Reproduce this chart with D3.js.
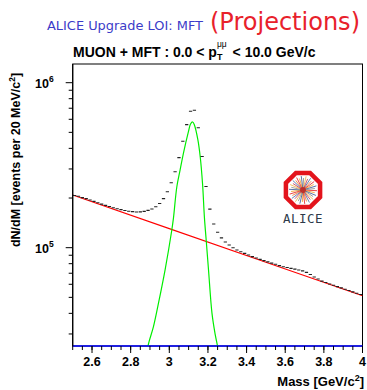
<!DOCTYPE html>
<html><head><meta charset="utf-8">
<script src="https://cdn.jsdelivr.net/npm/d3@7"></script>
<style>body{margin:0;background:#fff}svg{display:block}</style>
</head><body><div id="chart"></div>
<script>
// ---- data ----
const binCenters = [2.51,2.53,2.55,2.57,2.59,2.61,2.63,2.65,2.67,2.69,2.71,2.73,2.75,2.77,2.79,2.81,2.83,2.85,2.87,2.89,
 2.91,2.93,2.95,2.97,2.99,3.01,3.03,3.05,3.07,3.09,3.11,3.13,3.15,3.17,3.19,3.21,3.23,3.25,3.27,3.29,
 3.31,3.33,3.35,3.37,3.39,3.41,3.43,3.45,3.47,3.49,3.51,3.53,3.55,3.57,3.59,3.61,3.63,3.65,3.67,3.69,
 3.71,3.73,3.75,3.77,3.79,3.81,3.83,3.85,3.87,3.89,3.91,3.93,3.95,3.97,3.99];
const binCounts = [207200,204900,201200,198200,194600,190800,187400,183700,180500,177500,174500,172100,170000,168100,166400,165300,164600,164800,166000,168300,
 171600,177000,185300,198200,218500,247700,288800,351200,441400,556600,670900,680300,533700,357100,234900,171200,139200,124000,114700,108300,
 103800,100000,96800,94400,92400,90300,88300,86600,85000,83500,82000,80600,79300,77900,76700,75800,74900,74100,73200,72400,
 70900,68800,66400,64600,62700,61500,60300,59200,58100,57100,56000,55000,54000,52900,52000];
const bgMass = [2.5, 3.0, 3.5, 4.0];
const bgValue = [208400, 130500, 81700, 51200];
const sigMass = [2.880, 2.890, 2.918, 2.944, 2.978, 3.013, 3.0215, 3.039, 3.056, 3.073, 3.099, 3.110, 3.121, 3.130, 3.148, 3.160, 3.172, 3.182, 3.191, 3.203, 3.221, 3.238, 3.250, 3.256];
const sigValue = [20000, 25400, 33200, 46100, 73200, 128000, 151000, 234000, 296000, 373000, 505000, 562000, 578000, 554000, 450000, 356000, 245000, 151000, 111000, 73300, 40000, 29600, 25100, 22000];
const xMajorTicks = [2.6, 2.8, 3.0, 3.2, 3.4, 3.6, 3.8, 4.0];
const xTickLabels = ["2.6", "2.8", "3", "3.2", "3.4", "3.6", "3.8", "4"];
const yMajorTicks = [1e5, 1e6];
const yTickExponents = ["5", "6"];
const xDomain = [2.5, 4.0];
const yDomain = [25360, 1298000];
const binWidth = 0.02;

// ---- layout ----
const W = 367, H = 390;
const L = 72.7, R = 362.5, T = 64, B = 346;
const svg = d3.select("#chart").append("svg").attr("width", W).attr("height", H);
const x = d3.scaleLinear().domain(xDomain).range([L, R]);
const y = d3.scaleLog().domain(yDomain).range([B, T]);

svg.append("defs").append("clipPath").attr("id", "clip")
  .append("rect").attr("x", L).attr("y", T).attr("width", R - L).attr("height", B - T);

// frame
svg.append("rect").attr("x", L).attr("y", T).attr("width", R - L).attr("height", B - T)
  .attr("fill", "none").attr("stroke", "#000").attr("stroke-width", 1);

const plot = svg.append("g").attr("clip-path", "url(#clip)");

// background (red)
const bgLine = d3.line().x((d, i) => x(bgMass[i])).y((d, i) => y(bgValue[i]));
plot.append("path").attr("d", bgLine(bgMass)).attr("fill", "none").attr("stroke", "#ff0000").attr("stroke-width", 1.1);

// signal (green)
const sigLine = d3.line().curve(d3.curveCatmullRom.alpha(0.5))
  .x((d, i) => x(sigMass[i])).y((d, i) => y(sigValue[i]));
plot.append("path").attr("d", sigLine(sigMass)).attr("fill", "none").attr("stroke", "#00ee00").attr("stroke-width", 1.2);

// histogram bins
plot.selectAll("line.bin").data(binCenters).join("line").attr("class", "bin")
  .attr("x1", d => x(d - binWidth / 2) + 0.3).attr("x2", d => x(d + binWidth / 2) - 0.3)
  .attr("y1", (d, i) => y(binCounts[i])).attr("y2", (d, i) => y(binCounts[i]))
  .attr("stroke", "#222").attr("stroke-width", 1.1);

// bottom axis (blue line) + ticks
svg.append("line").attr("x1", L).attr("x2", R).attr("y1", B).attr("y2", B)
  .attr("stroke", "#0000ff").attr("stroke-width", 1.6);
const xMinor = d3.range(2.5, 4.0001, 0.05);
svg.selectAll("line.xmin").data(xMinor).join("line").attr("class", "xmin")
  .attr("x1", d => x(d)).attr("x2", d => x(d)).attr("y1", B).attr("y2", B + 4)
  .attr("stroke", "#000").attr("stroke-width", 1);
svg.selectAll("line.xmaj").data(xMajorTicks).join("line").attr("class", "xmaj")
  .attr("x1", d => x(d)).attr("x2", d => x(d)).attr("y1", B).attr("y2", B + 7)
  .attr("stroke", "#000").attr("stroke-width", 1);
svg.selectAll("text.xlab").data(xMajorTicks).join("text").attr("class", "xlab")
  .attr("x", d => x(d)).attr("y", 366).attr("text-anchor", "middle")
  .attr("font-family", "Liberation Sans, Arial, sans-serif").attr("font-weight", "bold").attr("font-size", 12.5)
  .text((d, i) => xTickLabels[i]);

// left axis ticks
svg.append("line").attr("x1", L).attr("x2", L).attr("y1", T).attr("y2", B).attr("stroke", "#000").attr("stroke-width", 1.2);
const yMinor = [];
[1e4, 1e5].forEach(dec => { for (let k = 2; k <= 9; k++) { const v = k * dec; if (v >= yDomain[0] && v <= yDomain[1]) yMinor.push(v); } });
svg.selectAll("line.ymin").data(yMinor).join("line").attr("class", "ymin")
  .attr("x1", L - 4).attr("x2", L).attr("y1", d => y(d)).attr("y2", d => y(d))
  .attr("stroke", "#000").attr("stroke-width", 1);
svg.selectAll("line.ymaj").data(yMajorTicks).join("line").attr("class", "ymaj")
  .attr("x1", L - 7).attr("x2", L).attr("y1", d => y(d)).attr("y2", d => y(d))
  .attr("stroke", "#000").attr("stroke-width", 1);
const ylab = svg.selectAll("text.ylab").data(yMajorTicks).join("text").attr("class", "ylab")
  .attr("x", 35).attr("y", d => y(d) + 5)
  .attr("font-family", "Liberation Sans, Arial, sans-serif").attr("font-weight", "bold").attr("font-size", 12.5);
ylab.append("tspan").text("10");
ylab.append("tspan").attr("dy", -6).attr("font-size", 8.5).text((d, i) => yTickExponents[i]);

// axis titles
const ytitle = svg.append("text").attr("transform", "translate(20,160) rotate(-90)").attr("text-anchor", "middle")
  .attr("font-family", "Liberation Sans, Arial, sans-serif").attr("font-weight", "bold").attr("font-size", 12.5);
ytitle.append("tspan").text("dN/dM  [events per 20 MeV/c");
ytitle.append("tspan").attr("dy", -5).attr("font-size", 8.5).text("2");
ytitle.append("tspan").attr("dy", 5).text("]");

const xtitle = svg.append("text").attr("x", 364).attr("y", 386).attr("text-anchor", "end")
  .attr("font-family", "Liberation Sans, Arial, sans-serif").attr("font-weight", "bold").attr("font-size", 13);
xtitle.append("tspan").text("Mass  [GeV/c");
xtitle.append("tspan").attr("dy", -5).attr("font-size", 9).text("2");
xtitle.append("tspan").attr("dy", 5).text("]");

// title
const title = svg.append("text").attr("x", 73).attr("y", 57)
  .attr("font-family", "Liberation Sans, Arial, sans-serif").attr("font-weight", "bold").attr("font-size", 14);
title.append("tspan").text("MUON + MFT : 0.0 < p");
title.append("tspan").attr("dy", 3).attr("font-size", 9).text("T");
title.append("tspan").attr("dx", -5.5).attr("dy", -13).attr("font-size", 8.5).attr("font-weight", "normal").text("μμ");
title.append("tspan").attr("dx", 2).attr("dy", 10).text(" < 10.0 GeV/c");

// header
svg.append("text").attr("x", 47).attr("y", 30).attr("fill", "#3b3bc8")
  .attr("font-family", "DejaVu Sans, sans-serif").attr("font-size", 12.5)
  .attr("textLength", 156).attr("lengthAdjust", "spacingAndGlyphs").text("ALICE Upgrade LOI: MFT");
svg.append("text").attr("x", 210).attr("y", 30).attr("fill", "#e8212b")
  .attr("font-family", "DejaVu Sans, sans-serif").attr("font-size", 25)
  .attr("textLength", 150).attr("lengthAdjust", "spacingAndGlyphs").text("(Projections)");

// ALICE logo
const logo = svg.append("g").attr("transform", "translate(303,190)");
const oct = d3.range(8).map(k => { const a = Math.PI / 8 + k * Math.PI / 4; return [18.5 * Math.cos(a), 18.5 * Math.sin(a)]; });
logo.append("polygon").attr("points", oct.map(p => p.join(",")).join(" "))
  .attr("fill", "#fff").attr("stroke", "#e3141c").attr("stroke-width", 4.5);
const rayColors = ["#e3141c", "#f39a1e", "#2f4f8f", "#888", "#f0b040", "#c03050", "#4060a0", "#f07020"];
const rays = d3.range(36);
logo.selectAll("line.ray").data(rays).join("line").attr("class", "ray")
  .attr("x1", 0).attr("y1", 0)
  .attr("x2", d => (d % 2 ? 12 : 14) * Math.cos(d * Math.PI / 18 + 0.05))
  .attr("y2", d => (d % 2 ? 12 : 14) * Math.sin(d * Math.PI / 18 + 0.05))
  .attr("stroke", d => rayColors[d % rayColors.length]).attr("stroke-width", 0.8);
logo.append("circle").attr("r", 3).attr("fill", "#c02020").attr("opacity", 0.8);
svg.append("text").attr("x", 303).attr("y", 223).attr("text-anchor", "middle").attr("fill", "#2d3a4a")
  .attr("font-family", "DejaVu Sans Mono, monospace").attr("font-size", 12.5).attr("letter-spacing", 0.5).text("ALICE");
</script></body></html>
